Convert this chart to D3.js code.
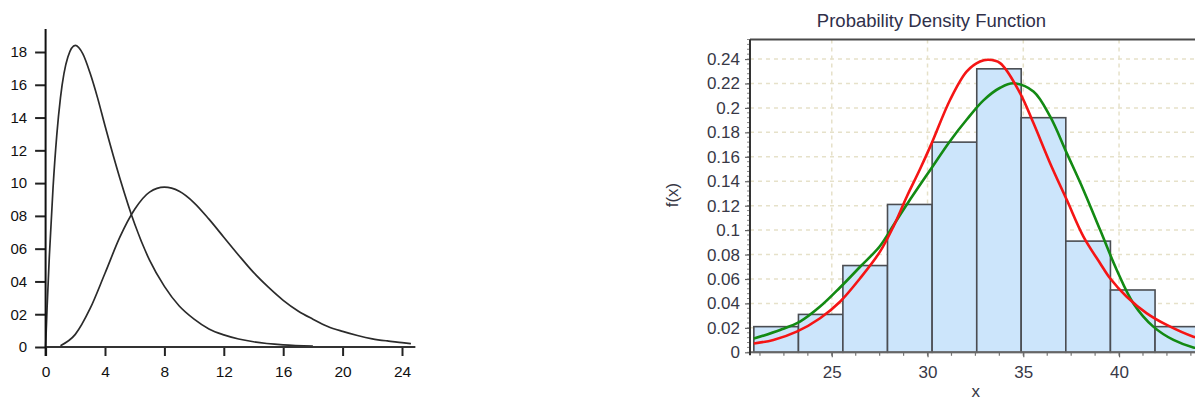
<!DOCTYPE html>
<html>
<head>
<meta charset="utf-8">
<script src="https://cdn.jsdelivr.net/npm/d3@7"></script>
<style>
  html, body { margin: 0; padding: 0; background: #fff; }
  svg { display: block; }
  text { font-family: "Liberation Sans", Arial, sans-serif; }
</style>
</head>
<body>
<svg id="chart" width="1195" height="401"></svg>
<script>
// ---------- Left chart data ----------
const leftXTicks = [0, 4, 8, 12, 16, 20, 24];
const leftYTicks = [0, 2, 4, 6, 8, 10, 12, 14, 16, 18];
const leftYLabels = ["0", "02", "04", "06", "08", "10", "12", "14", "16", "18"];

const curve1X = [0, 0.1, 0.25, 0.5, 0.75, 1, 1.5, 2, 2.5, 3, 3.5, 4, 5, 6, 7, 8, 9, 10, 11, 12, 13, 14, 16, 18];
const curve1Y = [0, 2.4, 5.5, 9.7, 12.9, 15.2, 17.7, 18.4, 17.9, 16.7, 15.2, 13.5, 10.3, 7.5, 5.3, 3.7, 2.5, 1.7, 1.1, 0.74, 0.49, 0.32, 0.13, 0.06];

const curve2X = [1, 2, 3, 4, 5, 6, 7, 8, 9, 10, 11, 12, 13, 14, 15, 16, 17, 18, 19, 20, 21, 22, 23, 24, 24.6];
const curve2Y = [0.08, 0.77, 2.35, 4.5, 6.7, 8.4, 9.45, 9.75, 9.5, 8.8, 7.8, 6.7, 5.6, 4.55, 3.65, 2.85, 2.2, 1.7, 1.25, 0.95, 0.7, 0.5, 0.37, 0.27, 0.2];

// ---------- Right chart data ----------
const chartTitle = "Probability Density Function";
const xLabel = "x";
const yLabel = "f(x)";
const rightXTicks = [25, 30, 35, 40];
const rightYTicks = [0, 0.02, 0.04, 0.06, 0.08, 0.1, 0.12, 0.14, 0.16, 0.18, 0.2, 0.22, 0.24];
const binEdges = [20.93, 23.26, 25.58, 27.91, 30.24, 32.57, 34.89, 37.22, 39.55, 41.88, 44.2];
const binHeights = [0.021, 0.031, 0.071, 0.121, 0.172, 0.232, 0.192, 0.091, 0.051, 0.021];

const redX = [20.93, 21.95, 23.17, 24.39, 25.43, 26.48, 27.52, 28.22, 28.92, 29.61, 30.22, 31.18, 32.05, 32.74, 33.18, 33.79, 34.83, 35.53, 36.40, 37.27, 38.14, 39.01, 39.53, 40.40, 41.45, 42.49, 43.88, 44.3];
const redY = [0.0072, 0.0101, 0.0169, 0.0279, 0.0414, 0.0606, 0.0824, 0.1029, 0.1275, 0.1500, 0.1712, 0.2067, 0.2299, 0.2380, 0.2394, 0.2367, 0.2122, 0.1876, 0.1548, 0.1248, 0.0947, 0.0729, 0.0606, 0.0455, 0.0319, 0.0224, 0.0128, 0.0112];

const greenX = [20.93, 22.30, 23.34, 24.39, 25.43, 26.48, 27.52, 28.22, 28.92, 30.13, 31.18, 32.05, 32.92, 33.79, 34.48, 35.53, 36.40, 37.27, 38.14, 39.01, 39.88, 40.75, 41.79, 42.84, 43.88, 44.3];
const greenY = [0.0112, 0.0183, 0.0251, 0.0374, 0.0530, 0.0700, 0.0870, 0.1040, 0.1210, 0.1490, 0.1730, 0.1905, 0.2062, 0.2165, 0.2202, 0.2135, 0.1930, 0.1630, 0.1329, 0.1002, 0.0674, 0.0400, 0.0210, 0.0101, 0.0040, 0.0030];

const svg = d3.select("#chart");

// ================= LEFT CHART =================
const L = svg.append("g");
const lx = d3.scaleLinear().domain([0, 24]).range([45.6, 402]);
const ly = d3.scaleLinear().domain([0, 18]).range([347, 52]);

const lLine = d3.line().x(d => lx(d[0])).y(d => ly(d[1])).curve(d3.curveMonotoneX);

L.append("path")
  .datum(curve1X.map((x, i) => [x, curve1Y[i]]))
  .attr("d", lLine).attr("fill", "none").attr("stroke", "#2b2b2b").attr("stroke-width", 1.7);
L.append("path")
  .datum(curve2X.map((x, i) => [x, curve2Y[i]]))
  .attr("d", lLine).attr("fill", "none").attr("stroke", "#2b2b2b").attr("stroke-width", 1.7);

// axes
const lxAxis = L.append("g").attr("transform", `translate(0,${ly(0)})`)
  .call(d3.axisBottom(lx).tickValues(leftXTicks).tickSize(9).tickPadding(10).tickFormat(d3.format("d")));
lxAxis.select(".domain").remove();
lxAxis.selectAll(".tick line").attr("stroke", "#222").attr("stroke-width", 2);
lxAxis.selectAll("text").attr("font-size", 15.5).attr("fill", "#111");
L.append("line").attr("x1", lx(0)).attr("x2", lx(24.9)).attr("y1", ly(0)).attr("y2", ly(0))
  .attr("stroke", "#333").attr("stroke-width", 2);

const lyAxis = L.append("g").attr("transform", `translate(${lx(0)},0)`)
  .call(d3.axisLeft(ly).tickValues(leftYTicks).tickSize(10.5).tickPadding(8)
    .tickFormat((d, i) => leftYLabels[i]));
lyAxis.select(".domain").remove();
lyAxis.selectAll(".tick line").attr("stroke", "#222").attr("stroke-width", 2);
lyAxis.selectAll("text").attr("font-size", 15).attr("fill", "#111");
L.append("line").attr("x1", lx(0)).attr("x2", lx(0)).attr("y1", ly(19.4)).attr("y2", ly(0) + 9)
  .attr("stroke", "#111").attr("stroke-width", 2);

// ================= RIGHT CHART =================
const R = svg.append("g");
const rx = d3.scaleLinear().domain([20.73, 44.3]).range([750, 1201.4]);
const ry = d3.scaleLinear().domain([0, 0.256]).range([352.3, 39.5]);

R.append("clipPath").attr("id", "rclip").append("rect")
  .attr("x", rx(20.73)).attr("y", ry(0.256)).attr("width", rx(44.3) - rx(20.73)).attr("height", ry(0) - ry(0.256));

// grid
const grid = R.append("g").attr("stroke", "#e6e1c9").attr("stroke-width", 1.5).attr("stroke-dasharray", "4,4");
grid.selectAll("line.h").data(rightYTicks.filter(d => d > 0)).join("line")
  .attr("x1", rx(20.73)).attr("x2", rx(44.3)).attr("y1", d => ry(d)).attr("y2", d => ry(d));
grid.selectAll("line.v").data(rightXTicks).join("line")
  .attr("x1", d => rx(d)).attr("x2", d => rx(d)).attr("y1", ry(0.256)).attr("y2", ry(0));

// bars
const bins = binHeights.map((h, i) => ({ x0: binEdges[i], x1: binEdges[i + 1], h }));
R.append("g").selectAll("rect").data(bins).join("rect")
  .attr("x", d => rx(d.x0)).attr("width", d => rx(d.x1) - rx(d.x0))
  .attr("y", d => ry(d.h)).attr("height", d => ry(0) - ry(d.h))
  .attr("fill", "#cce5fb").attr("stroke", "#4a4d52").attr("stroke-width", 1.6);

// curves
const rLine = d3.line().x(d => rx(d[0])).y(d => ry(d[1])).curve(d3.curveCatmullRom.alpha(0.5));
const curvesG = R.append("g").attr("clip-path", "url(#rclip)");
curvesG.append("path").datum(greenX.map((x, i) => [x, greenY[i]]))
  .attr("d", rLine).attr("fill", "none").attr("stroke", "#138a13").attr("stroke-width", 2.6);
curvesG.append("path").datum(redX.map((x, i) => [x, redY[i]]))
  .attr("d", rLine).attr("fill", "none").attr("stroke", "#f51515").attr("stroke-width", 2.6);

// frame
R.append("line").attr("x1", rx(20.73)).attr("x2", rx(44.3)).attr("y1", ry(0.256)).attr("y2", ry(0.256))
  .attr("stroke", "#4a4a4a").attr("stroke-width", 1.8);

// y axis
const minorY = d3.range(0, 0.2561, 0.004);
R.append("g").selectAll("line").data(minorY).join("line")
  .attr("x1", rx(20.73) - 3).attr("x2", rx(20.73)).attr("y1", d => ry(d)).attr("y2", d => ry(d))
  .attr("stroke", "#888").attr("stroke-width", 1);
const ryAxis = R.append("g").attr("transform", `translate(${rx(20.73)},0)`)
  .call(d3.axisLeft(ry).tickValues(rightYTicks).tickSize(5).tickPadding(5)
    .tickFormat(d => String(+d.toFixed(2))));
ryAxis.select(".domain").remove();
ryAxis.selectAll(".tick line").attr("stroke", "#666").attr("stroke-width", 1.2);
ryAxis.selectAll("text").attr("font-size", 17).attr("fill", "#383846");

// x axis
const minorX = d3.range(21.25, 44.3, 1.25);
R.append("g").selectAll("line").data(minorX).join("line")
  .attr("x1", d => rx(d)).attr("x2", d => rx(d)).attr("y1", ry(0)).attr("y2", ry(0) + 3.5)
  .attr("stroke", "#777").attr("stroke-width", 1.2);
const rxAxis = R.append("g").attr("transform", `translate(0,${ry(0)})`)
  .call(d3.axisBottom(rx).tickValues(rightXTicks).tickSize(5).tickPadding(9).tickFormat(d3.format("d")));
rxAxis.select(".domain").remove();
rxAxis.selectAll(".tick line").attr("stroke", "#666").attr("stroke-width", 1.2);
rxAxis.selectAll("text").attr("font-size", 17).attr("fill", "#383846");

R.append("line").attr("x1", rx(20.73)).attr("x2", rx(44.3)).attr("y1", ry(0)).attr("y2", ry(0))
  .attr("stroke", "#666").attr("stroke-width", 2);
R.append("line").attr("x1", rx(20.73)).attr("x2", rx(20.73)).attr("y1", ry(0.256)).attr("y2", ry(0) + 3)
  .attr("stroke", "#333").attr("stroke-width", 2);

// titles
R.append("text").attr("x", 931.5).attr("y", 27).attr("text-anchor", "middle")
  .attr("font-size", 18.5).attr("fill", "#30304a").text(chartTitle);
R.append("text").attr("x", (rx(20.73) + rx(44.3)) / 2).attr("y", 397).attr("text-anchor", "middle")
  .attr("font-size", 17).attr("fill", "#383846").text(xLabel);
R.append("text").attr("transform", "translate(678,195) rotate(-90)").attr("text-anchor", "middle")
  .attr("font-size", 17).attr("fill", "#383846").text(yLabel);
</script>
</body>
</html>
